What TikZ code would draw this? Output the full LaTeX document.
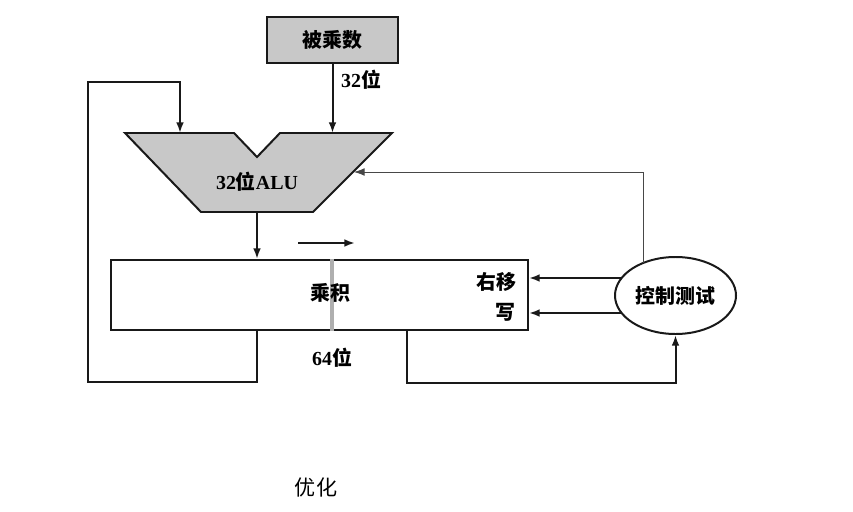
\documentclass[tikz,border=0pt]{standalone}
\usepackage{fontspec}
\setmainfont{Liberation Serif}
\newfontfamily\cjk{Noto Sans CJK SC}
\usetikzlibrary{arrows.meta,positioning,shapes.geometric}
\definecolor{UnitGray}{RGB}{200,200,200}
\definecolor{InkBlack}{RGB}{25,25,25}
\definecolor{SplitGray}{RGB}{175,175,175}
\tikzset{
  regbox/.style={draw=InkBlack,line width=1.7pt,inner sep=0pt},
  ctrlnode/.style={ellipse,draw=InkBlack,line width=1.7pt,fill=white,inner sep=0pt,
    minimum width=3.63cm,minimum height=2.31cm,font=\fontsize{17}{19}\selectfont\cjk\bfseries},
  lbl/.style={font=\fontsize{17}{19}\selectfont\bfseries,inner sep=0pt},
  arrow/.style={-{Latex[length=9pt,width=6.5pt]},line width=1.7pt,InkBlack},
  thinarrow/.style={-{Latex[length=9pt,width=6.5pt]},line width=0.6pt,InkBlack!80}
}

\begin{document}
\begin{tikzpicture}[x=0.03cm,y=-0.03cm]
  \useasboundingbox (0,0) rectangle (853,512);

  % Registers and control unit
  \node[regbox,fill=UnitGray,minimum width=3.93cm,minimum height=1.38cm,
    font=\fontsize{17}{19}\selectfont\cjk\bfseries] (mcand) at (332.5,40) {被乘数};
  \node[regbox,minimum width=12.51cm,minimum height=2.1cm] (prod) at (319.5,295) {};
  \node[ctrlnode] (ctrl) at (675.5,295.5) {控制测试};

  % ALU outline
  \coordinate (aluTL) at (125,133);
  \coordinate (aluNL) at (234,133);
  \coordinate (aluNB) at (257,157);
  \coordinate (aluNR) at (280,133);
  \coordinate (aluTR) at (392,133);
  \coordinate (aluBR) at (313,212);
  \coordinate (aluBL) at (201,212);
  \draw[fill=UnitGray,draw=InkBlack,line width=1.7pt,line join=miter]
    (aluTL) -- (aluNL) -- (aluNB) -- (aluNR) -- (aluTR) -- (aluBR) -- (aluBL) -- cycle;
  \node[lbl] (alu) at (257,182) {32{\cjk 位}ALU};
  \coordinate (aluOut) at (257,212);
  \coordinate (aluInA) at (180,133);
  \coordinate (aluSide) at (354,172);

  % Data paths
  \draw[arrow] (mcand.south) -- (mcand.south |- aluTR);
  \draw[arrow] (aluOut) -- (aluOut |- prod.north);
  \draw[line width=2.6pt,SplitGray] (prod.north -| 332,0) -- (prod.south -| 332,0);
  \coordinate (dirA) at (298,243);
  \coordinate (dirB) at (355,243);
  \draw[arrow] (dirA) -- (dirB);

  % Labels
  \node[lbl,anchor=west] (w32) at (341,80) {32{\cjk 位}};
  \node[lbl] (w64) at (332,358) {64{\cjk 位}};
  \node[lbl] (pname) at (330,293) {\cjk 乘积};
  \node[lbl] (shift) at (496,282) {\cjk 右移};
  \node[lbl] (wrt) at (505,312) {\cjk 写};
  \node[font=\fontsize{18}{20}\selectfont\cjk,inner sep=0pt] (note) at (316,487) {优化};

  % Feedback loops
  \coordinate (loopL) at (88,382);
  \coordinate (loopTop) at (180,82);
  \draw[arrow] (prod.south -| aluOut) |- (loopL) |- (loopTop) -- (aluInA);
  \coordinate (tapR) at (407,330);
  \coordinate (loopR) at (675.5,383);
  \draw[arrow] (tapR) |- (loopR) -- (ctrl.south);

  % Control signals
  \coordinate (sigShift) at (621,278);
  \coordinate (sigWrite) at (621,313);
  \draw[arrow] (sigShift) -- (sigShift -| prod.east);
  \draw[arrow] (sigWrite) -- (sigWrite -| prod.east);
  \coordinate (sigTest) at (643,263);
  \draw[thinarrow] (sigTest) |- (aluSide);
\end{tikzpicture}
\end{document}
